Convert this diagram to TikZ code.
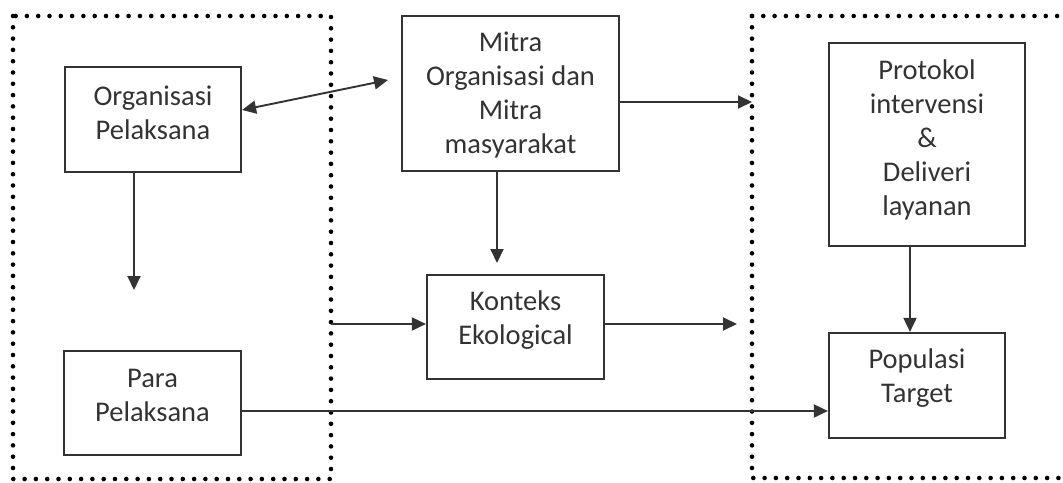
\documentclass[tikz,border=0pt]{standalone}
\usepackage{fontspec}
\setmainfont{Carlito}
\usetikzlibrary{arrows.meta}
\definecolor{txt}{HTML}{333333}
\definecolor{ln}{HTML}{333333}
\begin{document}
\begin{tikzpicture}[x=1pt,y=-1pt,
  box/.style={draw=ln,line width=2.2pt,rectangle,inner sep=0pt},
  lbl/.style={text=txt,align=center,font=\fontsize{28.5}{34}\selectfont,inner sep=0pt},
  arr/.style={draw=ln,line width=1.9pt,-{Triangle[length=14pt,width=13pt]}},
  darr/.style={draw=ln,line width=1.9pt,{Triangle[length=14pt,width=13pt]}-{Triangle[length=14pt,width=13pt]}},
  dotline/.style={draw=black,line width=4.6pt,line cap=round,dash pattern=on 0pt off 11.3pt}]
\useasboundingbox (0,0) rectangle (1063,482);
% dotted groups
\draw[dotline] (13,16) rectangle (331,479);
\draw[dotline] (752,16) -- (1075,16);
\draw[dotline] (752,16) -- (752,478) -- (1075,478);
% boxes
\node[box,minimum width=176pt,minimum height=105pt] (orgp) at (153,119.5) {};
\node[box,minimum width=217pt,minimum height=155pt] (mitra) at (510.5,93.5) {};
\node[box,minimum width=196pt,minimum height=203pt] (proto) at (927,144.5) {};
\node[box,minimum width=177pt,minimum height=104pt] (konteks) at (515.5,327) {};
\node[box,minimum width=177pt,minimum height=104pt] (para) at (152.5,403) {};
\node[box,minimum width=176pt,minimum height=105pt] (popul) at (917,385.5) {};
% labels
\node[lbl] (orgpt) at (153,112.5) {Organisasi\\Pelaksana};
\node[lbl] (mitrat) at (510.5,95) {Mitra\\Organisasi dan\\Mitra\\masyarakat};
\node[lbl] (protot) at (927,140) {Protokol\\intervensi\\\&\\Deliveri\\layanan};
\node[lbl] (kontekst) at (515.5,320) {Konteks\\Ekological};
\node[lbl] (parat) at (152.5,395) {Para\\Pelaksana};
\node[lbl] (popult) at (917,378.5) {Populasi\\Target};
% free ends
\coordinate (mitraIn) at (388,80);
\coordinate (orgDown) at (134,290);
\coordinate (mitraOut) at (752,102);
\coordinate (mitraDown) at (497,263);
\coordinate (kIn) at (331,324);
\coordinate (kOut) at (737,324);
% connectors
\draw[darr] ([yshift=9.5pt]orgp.east) -- (mitraIn);
\draw[arr] ([xshift=-19pt]orgp.south) -- (orgDown);
\draw[arr] ([yshift=-8.5pt]mitra.east) -- (mitraOut);
\draw[arr] ([xshift=-13.5pt]mitra.south) -- (mitraDown);
\draw[arr] (kIn) -- ([yshift=3pt]konteks.west);
\draw[arr] ([yshift=3pt]konteks.east) -- (kOut);
\draw[arr] ([xshift=-17pt]proto.south) -- ([xshift=-7pt]popul.north);
\draw[arr] ([yshift=-8pt]para.east) -- ([yshift=-25.5pt]popul.west);
\end{tikzpicture}
\end{document}
